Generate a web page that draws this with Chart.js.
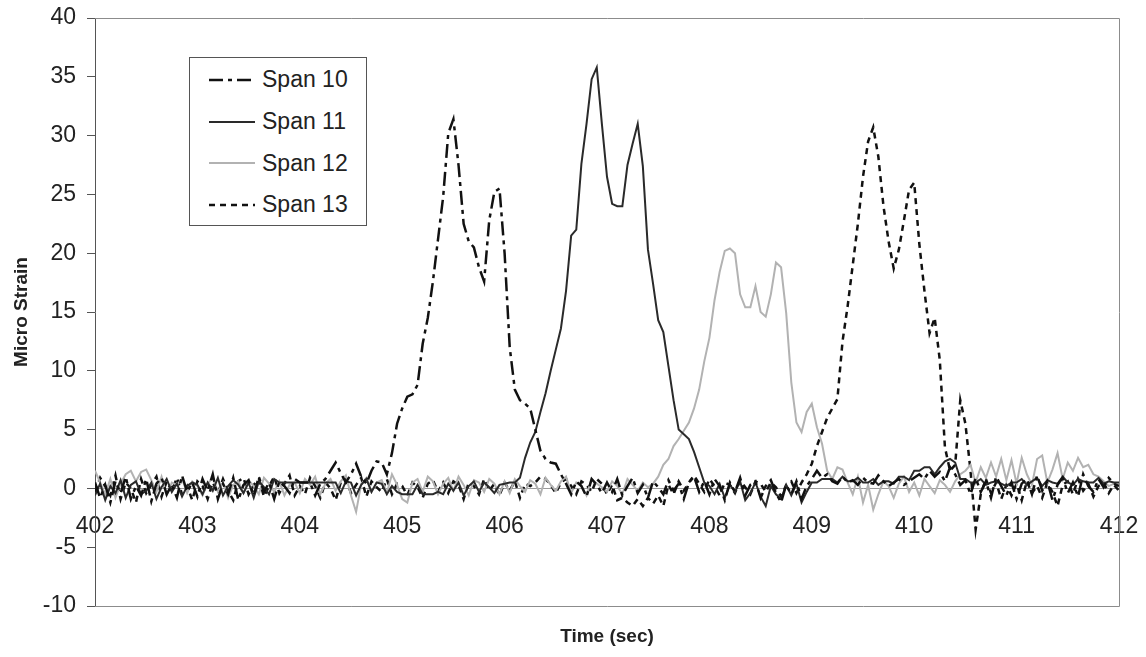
<!DOCTYPE html>
<html>
<head>
<meta charset="utf-8">
<script src="https://cdn.jsdelivr.net/npm/chart.js@4.4.1/dist/chart.umd.min.js"></script>
<style>
  body { margin: 0; background: #fff; }
  #wrap { position: relative; width: 1146px; height: 657px; }
  #legend {
    position: absolute; left: 189px; top: 57px; width: 178px; height: 169px;
    box-sizing: border-box; border: 1px solid #555; background: #fff;
    font: 23px "Liberation Sans", Arial, sans-serif; color: #222; padding-top: 1px;
  }
  #legend .row { height: 41.7px; display: flex; align-items: center; }
  #legend svg { margin-left: 19px; margin-right: 7px; }
</style>
</head>
<body>
<div id="wrap">
  <canvas id="mychart" width="1146" height="657"></canvas>
  <div id="legend"></div>
</div>
<script>
// sampling grid (sec)
var startTime = 402;
var sampleStep = 0.05;

// one row = one second, 20 samples
var span10 = [
  0.5, -0.8, 0.3, -1.2, 0.6, -0.4, 1.0, -0.9, 0.2, -0.6, 0.8, -1.1, 0.4, 0.9, -0.5, 0.3, -0.8, 1.1, -0.3, 0.5,
  -0.7, 0.8, -0.2, 1.2, -0.9, 0.4, -0.5, 0.9, -1.0, 0.3, 0.7, -0.6, 1.0, -0.3, 0.5, -0.9, 0.6, 0.2, -0.4, 0.8,
  0.5, 0.5, 0.5, -0.6, 0.4, 0.8, 1.5, 2.2, 1.3, 0.5, 1.2, 2.1, 1.0, 0.4, 1.5, 2.3, 2.2, 1.2, 3.0, 5.5,
  6.8, 7.8, 8.0, 8.8, 12.3, 14.5, 17.6, 21.2, 24.8, 30.2, 31.4, 27.5, 22.5, 21.0, 20.5, 18.8, 17.6, 22.8, 25.2, 25.5,
  20.0, 12.0, 8.4, 7.5, 7.2, 6.8, 5.0, 3.2, 2.5, 2.2, 2.1, 1.2, 0.4, -0.5, 0.6, 0.2, -0.7, 0.8, 0.3, -0.4,
  0.5, -0.3, 0.8, -0.6, 0.2, 0.9, -0.4, 0.3, -0.8, 0.6, 0.1, -0.5, 0.7, -0.2, 0.4, -0.9, 0.5, 1.0, -0.3, 0.6,
  -0.5, 0.8, 0.2, -1.0, 0.5, -0.3, 0.9, -0.6, 0.3, 0.6, -0.8, 0.2, 0.7, -0.4, -1.2, 0.3, -0.5, 0.6, -0.9, 0.2,
  0.8, 1.5, 0.9, 1.2, 0.6, 0.4, 1.0, 0.5, 0.7, 0.3, 0.9, 0.5, 0.4, 1.1, 0.6, 0.2, 0.5, 0.8, 0.3, 0.6,
  0.9, 1.2, 0.8, 1.5, 1.0, 1.4, 0.6, 1.8, 1.2, 0.3, 0.7, -0.5, 0.9, -0.3, 0.6, -0.8, 1.0, 0.2, -0.6, 0.5,
  -0.9, 0.4, 0.8, -0.5, 1.1, -0.2, 0.6, -1.0, 0.3, 0.9, -0.4, 0.5, -0.7, 1.2, 0.2, -0.3, 0.8, 0.1, 0.9, 0.4,
  0.2
];
var span11 = [
  -0.6, 0.4, -1.0, 0.2, -0.4, 0.7, -0.8, 0.3, 0.6, -0.5, -0.2, 0.5, -0.9, 0.1, 0.8, -0.3, 0.4, -0.7, 0.2, 0.5,
  0.3, -0.5, 0.5, -0.2, 0.9, -0.6, 0.2, 0.7, 0.3, -0.4, 0.5, -0.8, 0.6, 0.1, -0.5, 0.8, 0.5, 0.5, 0.5, 0.5,
  0.5, 0.5, 0.5, 0.5, 0.5, 0.5, 0.5, 0.5, -0.4, 0.6, 0.5, -0.6, 0.3, 0.8, -0.3, 0.5, 0.4, -0.5, 0.2, -0.3,
  -0.5, -0.5, -0.5, 0.3, -0.5, -0.5, -0.5, -0.3, -0.5, 0.4, -0.2, 0.5, -0.6, 0.2, 0.6, -0.3, 0.5, 0.1, -0.4, 0.3,
  0.4, 0.5, 0.5, 0.9, 2.6, 3.9, 4.8, 6.5, 8.1, 10.0, 11.8, 13.6, 16.8, 21.5, 22.0, 27.6, 31.0, 34.8, 35.8, 31.0,
  26.5, 24.2, 24.0, 24.0, 27.5, 29.3, 31.0, 27.4, 20.3, 17.4, 14.3, 13.3, 10.4, 7.5, 5.0, 4.6, 4.2, 3.1, 1.8, 0.5,
  0.2, -0.5, 0.4, -0.8, 0.3, -0.3, 0.6, -1.0, -0.4, 0.5, -0.7, -1.5, 0.2, -0.5, -0.9, 0.3, -0.6, 0.4, -1.2, -0.3,
  0.5, 0.5, 0.8, 0.8, 0.8, 0.5, 1.0, 0.6, 0.6, 0.9, 0.5, 0.5, 0.8, 0.3, 0.6, 0.6, 0.4, 1.0, 1.0, 0.7,
  1.5, 1.5, 1.8, 1.8, 1.2, 1.8, 2.3, 2.5, 2.2, 0.8, 0.8, 0.5, 0.5, 0.8, 0.3, 0.5, 0.6, 0.4, 0.2, 0.5,
  0.5, 0.8, 0.3, 0.6, 0.9, 0.2, 0.7, 0.5, 0.4, 1.0, 0.5, 0.3, 0.8, 0.6, 0.5, 0.5, 0.9, 0.4, 0.6, 0.5,
  0.5
];
var span12 = [
  1.5, 0.5, -0.5, 0.8, -0.8, 0.4, 1.2, 1.5, 0.6, 1.4, 1.6, 0.7, -0.3, 1.0, -0.6, 0.5, 0.3, 0.8, -0.4, 0.6,
  0.2, -0.6, 0.4, 0.9, -0.3, 0.5, -0.8, 0.3, 0.6, -0.4, 0.7, 0.2, -0.5, 0.9, 0.4, -0.3, 0.6, -0.6, 0.3, 0.5,
  -0.4, 0.8, 0.3, 1.0, -0.5, 0.4, 0.8, -0.2, 0.6, 1.1, -0.6, -2.0, 0.4, 0.9, -0.3, 0.5, 0.7, -0.4, 1.2, 0.3,
  -0.9, -1.2, 0.5, 0.8, -0.3, 1.0, 0.6, -0.5, 0.4, 0.9, -0.2, 1.0, 0.3, -0.6, 0.7, 0.5, -0.3, 0.8, 0.4, -0.5,
  0.6, -0.4, 0.8, 0.2, -0.3, 0.7, 0.4, -0.5, 0.9, 0.3, -0.2, 0.6, 1.0, -0.4, 0.5, 0.2, -0.6, 0.8, 0.4, 0.1,
  -0.3, 0.6, 0.2, -0.5, 0.8, 0.3, -0.2, 0.5, 0.1, 0.4, 1.0, 2.0, 2.5, 3.6, 4.2, 4.9, 5.6, 6.8, 8.4, 10.8,
  12.8, 16.0, 18.4, 20.2, 20.4, 20.0, 16.5, 15.4, 15.4, 17.2, 15.0, 14.6, 16.5, 19.2, 18.8, 14.9, 9.0, 5.6, 4.8, 6.5,
  7.2, 5.2, 3.8, 1.5, 0.8, 1.8, 1.6, 0.5, -0.5, 1.0, -1.2, 0.3, -1.8, -0.5, 0.6, 0.2, -0.8, 0.4, 1.0, -0.3,
  0.5, -0.6, 0.8, 0.2, -0.4, 0.7, 0.3, -0.3, 0.6, 1.2, 1.5, 2.0, 0.5, 1.8, 0.9, 2.2, 1.0, 2.5, 0.7, 2.4,
  0.4, 2.6, 1.2, 0.3, 2.5, 2.8, 0.5, 1.6, 3.0, 0.8, 2.2, 1.5, 2.6, 1.8, 2.0, 1.2, 1.0, 0.6, 0.2, 0.4,
  0.3
];
var span13 = [
  -0.3, 0.9, 0.2, -0.6, 1.1, -0.9, 0.5, 0.0, -1.2, 0.8, -0.4, 0.3, 1.0, -0.7, 0.6, -0.2, 0.9, -0.5, 0.2, -1.0,
  0.6, 0.2, -0.9, 0.5, -0.4, 0.8, -0.2, -1.0, 0.6, 0.9, -0.5, 0.3, 0.8, -0.7, 0.2, 1.0, -0.4, 0.4, 1.1, -0.6,
  0.2, -0.5, 0.9, 0.2, -0.8, 0.5, 0.0, -1.0, 0.5, 0.8, -0.4, 0.3, 0.9, -0.7, 0.6, 0.1, -0.3, 0.8, -0.5, 0.4,
  0.2, -0.6, 0.5, 0.1, -0.8, 0.4, 0.7, -0.3, 0.5, -0.4, 0.6, 0.3, -0.9, 0.5, 0.2, -0.5, 0.8, -0.2, 0.4, -0.6,
  0.5, -0.2, 0.6, -0.8, 0.4, 0.2, 0.5, 1.0, 0.8, 0.3, -0.4, 0.5, 0.8, 0.2, -0.5, 0.6, 0.3, -0.3, 0.8, 0.4,
  -0.5, 0.3, -1.0, -0.8, -1.2, -1.5, -0.9, -1.5, -0.8, -1.3, -0.6, -1.5, 0.3, -0.5, 0.6, -0.2, 0.5, 1.1, 0.4, -0.3,
  0.8, 0.2, -0.6, 0.5, 0.3, -0.4, 0.7, 0.1, -0.5, 0.6, 0.4, -0.3, 0.5, 0.1, -0.7, 0.3, 0.6, -0.4, 0.5, 1.2,
  2.1, 3.6, 4.8, 6.0, 6.8, 7.6, 12.5, 15.5, 19.0, 22.5, 26.5, 29.5, 30.7, 28.2, 24.0, 21.0, 18.7, 20.3, 22.8, 25.4,
  26.0, 20.8, 16.8, 13.2, 14.5, 10.9, 3.5, 1.5, 2.0, 7.5, 5.5, 1.5, -3.5, -0.5, 0.8, -0.4, 0.5, -0.9, 0.3, -0.6,
  0.4, -1.0, 0.6, -0.4, 0.2, -0.8, 0.5, -0.3, -1.5, 0.3, 0.6, -0.5, 0.8, -0.2, 0.4, -0.7, 0.2, 0.5, -0.4, 0.3,
  -0.2
];

var seriesNames = ["Span 10", "Span 11", "Span 12", "Span 13"];
var xTicks = { min: 402, max: 412, step: 1 };
var yTicks = { min: -10, max: 40, step: 5 };

var hitam = '#111111';
var abuTua = '#2a2a2a';
var abuMuda = '#b2b2b2';
var garis = '#8c8c8c';

function toPoints(values) {
  return values.map(function (v, i) {
    return { x: +(startTime + i * sampleStep).toFixed(2), y: v };
  });
}

// scales should not push the plot area in, the padding below fixes it
function noOverhang(s) {
  s.paddingTop = 0;
  s.paddingBottom = 0;
  s.paddingLeft = 0;
  s.paddingRight = 0;
}

var tickFont = { family: '"Liberation Sans", Arial, sans-serif', size: 23 };
var titleFont = { family: '"Liberation Sans", Arial, sans-serif', size: 19, weight: 'bold' };

// top, right and bottom frame of the plot
var plotFrame = {
  id: 'plotFrame',
  beforeDatasetsDraw: function (chart) {
    var a = chart.chartArea;
    var ctx = chart.ctx;
    ctx.save();
    ctx.strokeStyle = garis;
    ctx.lineWidth = 1;
    ctx.beginPath();
    ctx.moveTo(a.left, a.top + 0.5);
    ctx.lineTo(a.right + 0.5, a.top + 0.5);
    ctx.lineTo(a.right + 0.5, a.bottom + 0.5);
    ctx.lineTo(a.left, a.bottom + 0.5);
    ctx.stroke();
    ctx.restore();
  }
};

// html legend with a box, as in the original
var htmlLegend = {
  id: 'htmlLegend',
  afterUpdate: function (chart) {
    var box = document.getElementById('legend');
    box.innerHTML = '';
    chart.data.datasets.forEach(function (ds) {
      var row = document.createElement('div');
      row.className = 'row';
      var dash = (ds.borderDash || []).join(' ');
      row.innerHTML = '<svg width="46" height="8"><line x1="0" y1="4" x2="46" y2="4" stroke="' +
        ds.borderColor + '" stroke-width="' + ds.borderWidth + '" stroke-dasharray="' + dash + '"/></svg>' +
        '<span>' + ds.label + '</span>';
      box.appendChild(row);
    });
  }
};

var ctx = document.getElementById('mychart').getContext('2d');
var myChart = new Chart(ctx, {
  type: 'line',
  data: {
    datasets: [{
      label: seriesNames[0],
      data: toPoints(span10),
      borderColor: hitam,
      borderWidth: 2.5,
      borderDash: [14, 5, 4, 5]
    }, {
      label: seriesNames[1],
      data: toPoints(span11),
      borderColor: abuTua,
      borderWidth: 2
    }, {
      label: seriesNames[2],
      data: toPoints(span12),
      borderColor: abuMuda,
      borderWidth: 2
    }, {
      label: seriesNames[3],
      data: toPoints(span13),
      borderColor: hitam,
      borderWidth: 2.5,
      borderDash: [6, 5]
    }]
  },
  options: {
    responsive: false,
    animation: false,
    devicePixelRatio: 1,
    elements: { point: { radius: 0 }, line: { tension: 0, fill: false } },
    layout: { padding: { top: 18, right: 27, left: 0, bottom: 0 } },
    plugins: { legend: { display: false }, tooltip: { enabled: false } },
    scales: {
      x: {
        type: 'linear',
        position: { y: 0 },
        min: xTicks.min,
        max: xTicks.max,
        ticks: { stepSize: xTicks.step, padding: 16, font: tickFont, color: '#222' },
        grid: { display: false },
        border: { color: '#9a9a9a', width: 1 },
        afterFit: noOverhang
      },
      x2: {
        type: 'linear',
        position: 'bottom',
        min: xTicks.min,
        max: xTicks.max,
        ticks: { display: false },
        grid: { display: false },
        border: { display: false },
        title: { display: true, text: 'Time (sec)', font: titleFont, color: '#222', padding: { top: 0, bottom: 9 } },
        afterFit: function (s) { noOverhang(s); s.height = 51; }
      },
      y: {
        min: yTicks.min,
        max: yTicks.max,
        ticks: { stepSize: yTicks.step, padding: 11, font: tickFont, color: '#222' },
        grid: { drawOnChartArea: false, tickLength: 8, color: '#555' },
        border: { color: '#555', width: 1 },
        title: { display: true, text: 'Micro Strain', font: titleFont, color: '#222', padding: { top: 10, bottom: 0 } },
        afterFit: function (s) { noOverhang(s); s.width = 95; }
      }
    }
  },
  plugins: [plotFrame, htmlLegend]
});
</script>
</body>
</html>
